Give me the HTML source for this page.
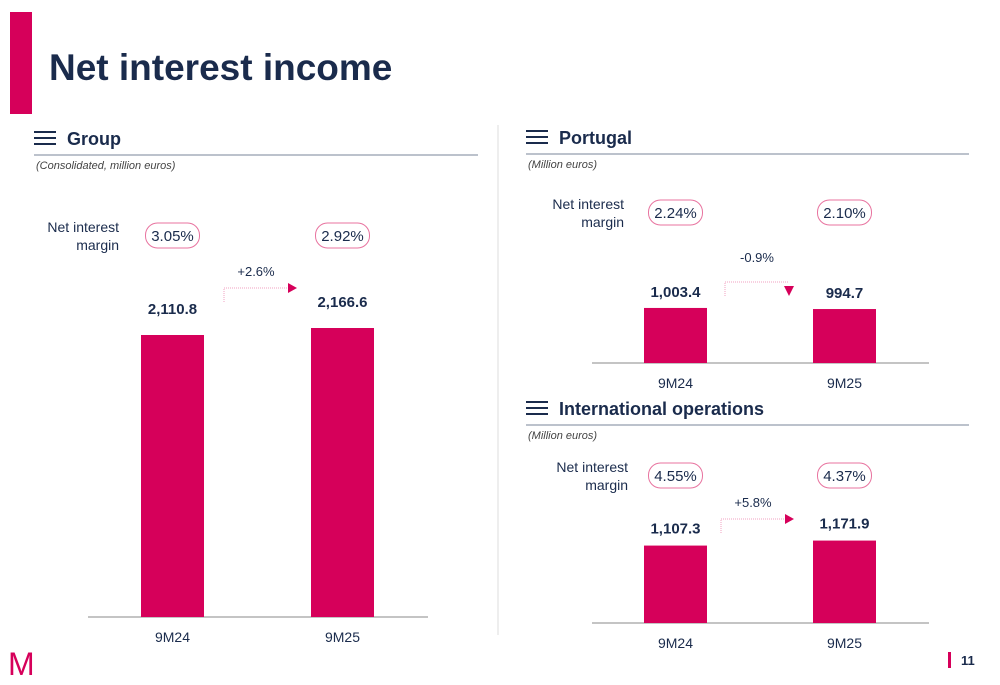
<!DOCTYPE html>
<html><head><meta charset="utf-8"><style>
body{margin:0;width:1000px;height:685px;background:#fff;overflow:hidden;font-family:"Liberation Sans",sans-serif}
svg{position:absolute;left:0;top:0}
</style></head><body>
<svg id="s" width="1000" height="685">
<rect x="10" y="12" width="22" height="102" fill="#d6005a"/>
<text x="49" y="80" font-size="37" font-weight="bold" fill="#1a2b4c">Net interest income</text>
<line x1="498" y1="125" x2="498" y2="635" stroke="#ddd"/>
<text x="8" y="675" font-size="32" fill="#d6005a" font-family="Liberation Sans">M</text>
<rect x="948" y="652" width="3" height="16" fill="#d6005a"/>
<text x="961" y="665" font-size="13" font-weight="bold" fill="#1a2b4c">11</text>
</svg>
<script>
const cats=["9M24","9M25"];
const groupVals=[2110.8,2166.6];
const ptVals=[1003.4,994.7];
const intVals=[1107.3,1171.9];
const groupNim=["3.05%","2.92%"];
const ptNim=["2.24%","2.10%"];
const intNim=["4.55%","4.37%"];
const groupChg="+2.6%", ptChg="-0.9%", intChg="+5.8%";
const valLabels={g:["2,110.8","2,166.6"],p:["1,003.4","994.7"],i:["1,107.3","1,171.9"]};
const svg=document.getElementById('s');
const NS='http://www.w3.org/2000/svg';
function el(t,a,txt){const e=document.createElementNS(NS,t);for(const k in a)e.setAttribute(k,a[k]);if(txt!==undefined)e.textContent=txt;svg.appendChild(e);return e;}
function header(x,y,w,title,sub){
  for(let k=0;k<3;k++){const l=el('line',{x1:x,y1:y-7+k*6,x2:x+22,y2:y-7+k*6,stroke:'#1a2b4c','stroke-width':2});
  }
  const t=el('text',{x:x+33,y:y+6,'font-size':18,'font-weight':'bold',fill:'#1a2b4c'},title);
  
  const l=el('line',{x1:x,y1:y+16,x2:x+w,y2:y+16,stroke:'#7a8499','stroke-width':1});
  
  const s=el('text',{x:x+2,y:y+30,'font-size':11,'font-style':'italic',fill:'#444'},sub);
  
}
function chart(o){
  const y=v=>o.base-(v-o.min)*o.k;
  const ax=el('line',{x1:o.ax0,y1:o.base,x2:o.ax1,y2:o.base,stroke:'#888'});
  
  const nl=el('text',{x:o.nimX,y:o.nimY-4,'font-size':14,fill:'#1a2b4c','text-anchor':'end'});
  
  const t1=el('tspan',{x:o.nimX,dy:0},'Net interest');const t2=el('tspan',{x:o.nimX,dy:18},'margin');nl.appendChild(t1);nl.appendChild(t2);
  o.vals.forEach((v,i)=>{
    const cx=o.xs[i]+31.5;
    const b=el('rect',{x:o.xs[i],y:y(v),width:63,height:o.base-y(v),fill:'#d6005a'});
    
    const vl=el('text',{x:cx,y:y(v)-o.lo,'font-size':15,'font-weight':'bold',fill:'#1a2b4c','text-anchor':'middle'},o.labels[i]);
    
    const cl=el('text',{x:cx,y:o.base+25,'font-size':14,fill:'#1a2b4c','text-anchor':'middle'},cats[i]);
    
    const p=el('rect',{x:cx-27,y:o.nimY-13,width:54,height:25,rx:12,fill:'#fff',stroke:'#e8739f'});
    
    const pt=el('text',{x:cx,y:o.nimY+5,'font-size':15,fill:'#1a2b4c','text-anchor':'middle'},o.nim[i]);
    
  });
  const ct=el('text',{x:o.chgX,y:o.chgY,'font-size':13,fill:'#1a2b4c','text-anchor':'middle'},o.chg);
  
  const ay=o.down?o.chgY+20:o.chgY+12, x0=o.chgX-32, x1=o.chgX+32;
  const al=el('path',{d:`M${x0} ${ay+14} V${ay} H${x1}`,fill:'none',stroke:'#f0a0c0','stroke-dasharray':'1 1'});
  
  const ah=o.down?el('path',{d:`M${x1-5} ${ay+4} h10 l-5 10 z`,fill:'#d6005a'}):el('path',{d:`M${x1} ${ay-5} l9 5 l-9 5 z`,fill:'#d6005a'});
  
}
header(34,139,444,'Group','(Consolidated, million euros)');
header(526,138,443,'Portugal','(Million euros)');
header(526,409,443,'International operations','(Million euros)');
chart({vals:groupVals,labels:valLabels.g,nim:groupNim,chg:groupChg,min:-138,k:0.1254,base:617,xs:[141,311],ax0:88,ax1:428,nimX:119,nimY:236,chgX:256,chgY:276,lo:21});
chart({vals:ptVals,labels:valLabels.p,nim:ptNim,chg:ptChg,min:563,k:0.125,base:363,xs:[644,813],ax0:592,ax1:929,nimX:624,nimY:213,chgX:757,chgY:262,down:true,lo:11});
chart({vals:intVals,labels:valLabels.i,nim:intNim,chg:intChg,min:107,k:0.0774,base:623,xs:[644,813],ax0:592,ax1:929,nimX:628,nimY:476,chgX:753,chgY:507,lo:12});
</script>
</body></html>
